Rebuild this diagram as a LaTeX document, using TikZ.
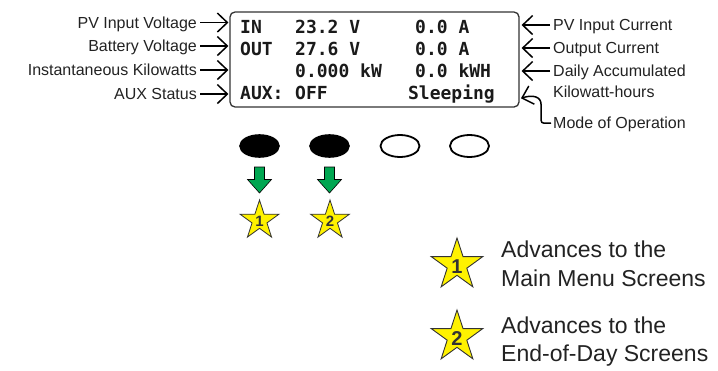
\documentclass[tikz,border=0pt]{standalone}
\usepackage{fontspec}
\setmainfont{Liberation Sans}
\newfontfamily\lcdfont{DejaVu Sans Mono}
\usetikzlibrary{shapes.geometric,calc}
\definecolor{lcdtext}{HTML}{1A1A1A}
\definecolor{boxline}{HTML}{333333}
\definecolor{btngreen}{HTML}{00A651}
\definecolor{staryellow}{HTML}{FFF200}
\definecolor{labeltext}{HTML}{222222}
\begin{document}
\begin{tikzpicture}[x=1pt,y=-1pt,
  lbl/.style={font=\fontsize{16}{16}\selectfont, text=labeltext, inner sep=0pt, text height=11.5pt, text depth=0pt},
  lcdtxt/.style={font=\lcdfont\bfseries\fontsize{18}{18}\selectfont, text=lcdtext, inner sep=0pt},
  arr/.style={draw=black, line width=1.5pt},
  chev/.pic={\draw[line width=1.5pt, line join=miter] (-10,-9.5) -- (0,0) -- (-10,9.5);},
  btnfull/.style={ellipse, draw=black, line width=1.6pt, fill=black, minimum width=39pt, minimum height=22pt, inner sep=0pt},
  btnempty/.style={ellipse, draw=black, line width=1.8pt, fill=white, minimum width=39pt, minimum height=22pt, inner sep=0pt},
  starsmall/.style={star, star points=5, star point ratio=2.618, draw=boxline, line width=0.8pt, fill=staryellow, minimum size=41pt, inner sep=0pt},
  starbig/.style={star, star points=5, star point ratio=2.618, draw=boxline, line width=0.9pt, fill=staryellow, minimum size=54pt, inner sep=0pt},
  digsmall/.style={font=\bfseries\fontsize{15}{15}\selectfont, text=boxline, inner sep=0pt},
  digbig/.style={font=\bfseries\fontsize{20}{20}\selectfont, text=boxline, inner sep=0pt},
  legend/.style={font=\fontsize{23}{23}\selectfont, text=labeltext, inner sep=0pt, anchor=base west},
  greenarrow/.style={draw=black, line width=0.6pt, fill=btngreen, line join=miter}
]
\useasboundingbox (0,0) rectangle (718,370);

% LCD box
\node[draw=boxline, line width=1.3pt, rounded corners=5pt, minimum width=289pt, minimum height=95pt, inner sep=0pt] (lcd) at (374.5,59.5) {};

% LCD text
\node[lcdtxt, anchor=base west] (t11) at (240,33.5) {IN};
\node[lcdtxt, anchor=base west] (t12) at (295,33.5) {23.2 V};
\node[lcdtxt, anchor=base west] (t13) at (415,33.5) {0.0 A};
\node[lcdtxt, anchor=base west] (t21) at (240,55.5) {OUT};
\node[lcdtxt, anchor=base west] (t22) at (295,55.5) {27.6 V};
\node[lcdtxt, anchor=base west] (t23) at (415,55.5) {0.0 A};
\node[lcdtxt, anchor=base west] (t32) at (295,77.5) {0.000 kW};
\node[lcdtxt, anchor=base west] (t33) at (415,77.5) {0.0 kWH};
\node[lcdtxt, anchor=base west] (t41) at (240,99.5) {AUX:};
\node[lcdtxt, anchor=base west] (t42) at (295,99.5) {OFF};
\node[lcdtxt, anchor=base east] (t43) at (495,99.5) {Sleeping};

% left labels
\node[lbl, anchor=south east] (l1) at (197,28.5) {PV Input Voltage};
\node[lbl, anchor=south east] (l2) at (197,52) {Battery Voltage};
\node[lbl, anchor=south east] (l3) at (197,76) {Instantaneous Kilowatts};
\node[lbl, anchor=south east] (l4) at (197,100) {AUX Status};
\foreach \i in {1,2,3,4}{
  \coordinate (lt\i) at ($(l\i.east -| lcd.west)+(-2,0)$);
  \draw[arr, shorten <=3pt] (l\i.east) -- (lt\i);
  \pic at (lt\i) {chev};
}

% right labels
\node[lbl, anchor=south west] (r1) at (553,31) {PV Input Current};
\node[lbl, anchor=south west] (r2) at (553,54) {Output Current};
\node[lbl, anchor=south west] (r3) at (553,77) {Daily Accumulated};
\node[lbl, anchor=south west] (r3b) at (553,98) {Kilowatt-hours};
\node[lbl, anchor=south west] (r5) at (553,129) {Mode of Operation};
\foreach \i in {1,2,3}{
  \coordinate (rt\i) at ($(r\i.west -| lcd.east)+(3,0)$);
  \draw[arr, shorten <=3pt] (r\i.west) -- (rt\i);
  \pic[rotate=180] at (rt\i) {chev};
}
\coordinate (modetip) at (522,98);
\draw[arr, rounded corners=3pt] ($(r5.west)+(-2,0)$) -- (541,123.25) -- (541,107)
  .. controls (541,97) and (533,94) .. (modetip);
\pic[rotate=197] at (modetip) {chev};

% buttons
\node[btnfull] (b1) at (259.5,146) {};
\node[btnfull] (b2) at (329.5,146) {};
\node[btnempty] (b3) at (400,146) {};
\node[btnempty] (b4) at (469.5,146) {};

% green arrows
\foreach \i/\x in {1/259.5,2/329.5}{
  \draw[greenarrow] (\x-5,167) -- (\x+5,167) -- (\x+5,179.5) -- (\x+12,179.5) -- (\x,193) -- (\x-12,179.5) -- (\x-5,179.5) -- cycle;
}

% small stars
\node[starsmall] (s1) at (259.5,220.5) {};
\node[digsmall] (d1) at (259.5,221.5) {1};
\node[starsmall] (s2) at (330,220.5) {};
\node[digsmall] (d2) at (330,221.5) {2};

% legend
\node[starbig] (ls1) at (457,265) {};
\node[digbig] (ld1) at (457,267) {1};
\node[starbig] (ls2) at (457,337) {};
\node[digbig] (ld2) at (457,339) {2};
\node[legend] (lg1) at (501,257) {Advances to the};
\node[legend] (lg2) at (501,286) {Main Menu Screens};
\node[legend] (lg3) at (501,333) {Advances to the};
\node[legend] (lg4) at (501,361) {End-of-Day Screens};
\end{tikzpicture}
\end{document}
